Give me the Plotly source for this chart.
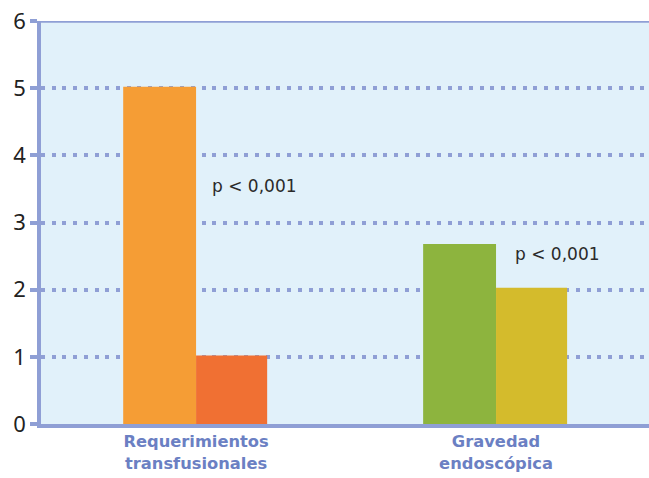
import plotly.graph_objects as go

categories = ["Requerimientos<br>transfusionales", "Gravedad<br>endoscópica"]
series_a = [5.02, 2.68]
series_b = [1.02, 2.03]
colors_a = ["#f59d35", "#8db43e"]
colors_b = ["#f07033", "#d4bb2c"]
p_labels = ["p < 0,001", "p < 0,001"]
p_pos_x = [0.047, 1.055]
p_pos_y = [3.54, 2.53]
y_ticks = [0, 1, 2, 3, 4, 5, 6]

axis_col = "#8f9fd5"
xs = list(range(len(categories)))

fig = go.Figure()
fig.add_trace(go.Bar(x=xs, y=series_a, marker=dict(color=colors_a, line=dict(width=0)),
                     width=0.243, offset=-0.243, showlegend=False))
fig.add_trace(go.Bar(x=xs, y=series_b, marker=dict(color=colors_b, line=dict(width=0)),
                     width=0.237, offset=0, showlegend=False))

for px, py, t in zip(p_pos_x, p_pos_y, p_labels):
    fig.add_annotation(x=px, y=py, text=t, showarrow=False, xanchor="left", yanchor="middle",
                       font=dict(family="DejaVu Sans", size=17, color="#2a2a2a"))

fig.add_shape(type="line", xref="paper", yref="y", x0=0, x1=1, y0=6, y1=6,
              line=dict(color=axis_col, width=3.5), layer="above")

fig.update_layout(
    width=649, height=478,
    margin=dict(l=41, r=0, t=21, b=54),
    paper_bgcolor="white",
    plot_bgcolor="#e1f1fa",
    font=dict(family="DejaVu Sans"),
    xaxis=dict(range=[-0.517, 1.51], tickvals=xs, ticktext=categories,
               showgrid=False, zeroline=False, showline=True, linecolor=axis_col, linewidth=3.5,
               ticks="", tickfont=dict(family="DejaVu Sans", size=16.3, color="#6b80c3", weight="bold"),
               fixedrange=True),
    yaxis=dict(range=[0, 6], tickvals=y_ticks, showgrid=True, gridcolor=axis_col, gridwidth=3.5,
               griddash="4px,6.7px", zeroline=False, showline=True, linecolor=axis_col, linewidth=3.5,
               ticks="outside", ticklen=7, tickwidth=3.5, tickcolor=axis_col,
               tickfont=dict(family="Noto Sans", size=22, color="#222222"),
               fixedrange=True),
)

fig.write_html("out.html")
